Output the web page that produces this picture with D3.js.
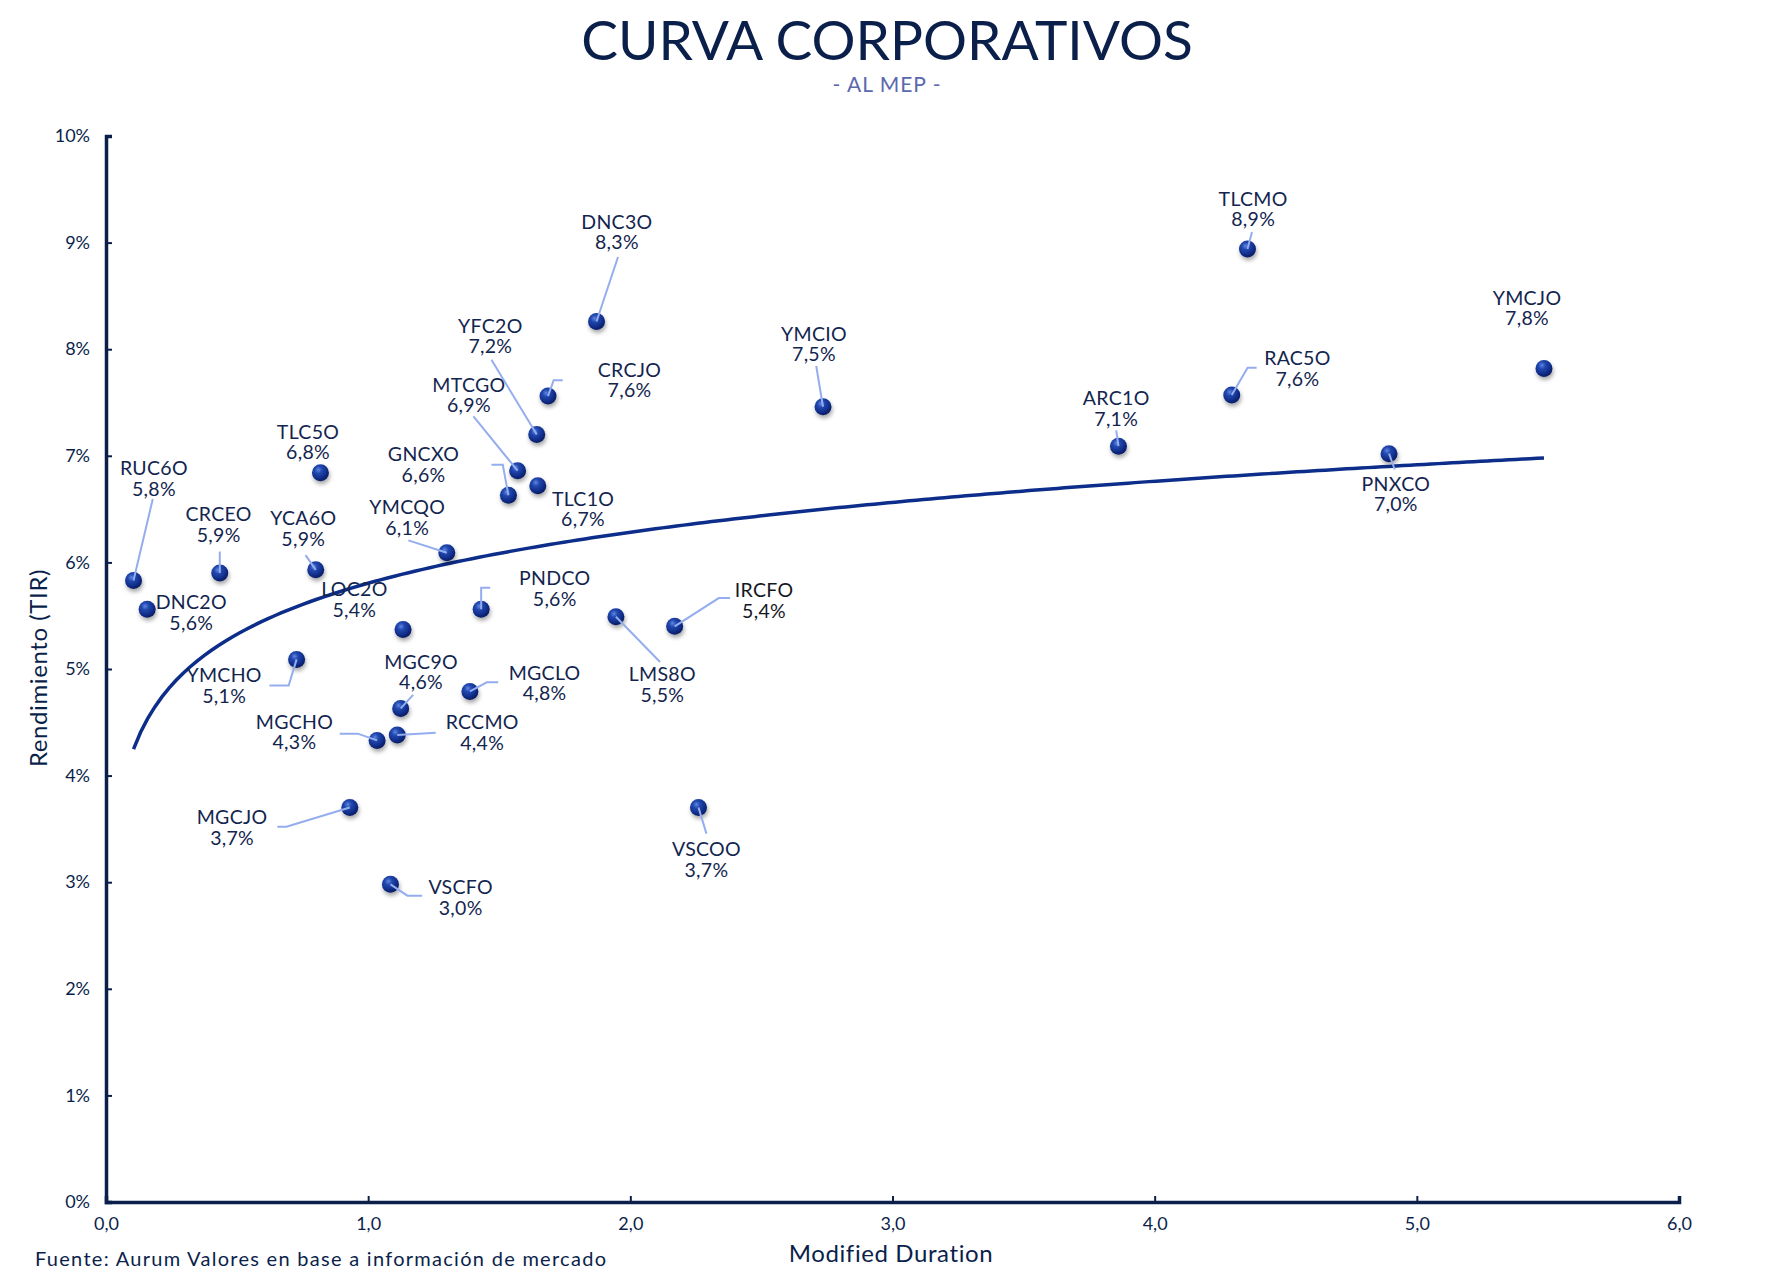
<!DOCTYPE html>
<html><head><meta charset="utf-8">
<script src="https://cdn.jsdelivr.net/npm/d3@7"></script>
<style>body{margin:0;background:#fff}svg{display:block;font-family:Lato,"Noto Sans",sans-serif}</style>
</head><body>
<svg id="c" width="1775" height="1287"></svg>
<script>
// ---- data ----
const tickers = ["RUC6O","DNC2O","CRCEO","YCA6O","TLC5O","YMCHO","LOC2O","YMCQO","GNCXO","MTCGO",
  "TLC1O","YFC2O","CRCJO","DNC3O","PNDCO","MGC9O","MGCLO","MGCHO","RCCMO","MGCJO",
  "VSCFO","LMS8O","IRCFO","VSCOO","YMCIO","ARC1O","TLCMO","RAC5O","PNXCO","YMCJO"];
const duration = [0.105,0.157,0.434,0.80,0.818,0.727,1.133,1.30,1.535,1.57,
  1.647,1.643,1.686,1.871,1.431,1.124,1.388,1.034,1.111,0.93,
  1.085,1.945,2.169,2.26,2.735,3.862,4.354,4.294,4.894,5.485];
const yields = [5.83,5.56,5.90,5.93,6.84,5.09,5.37,6.09,6.63,6.86,
  6.72,7.20,7.56,8.26,5.56,4.63,4.79,4.33,4.38,3.70,
  2.98,5.49,5.40,3.70,7.46,7.09,8.94,7.57,7.02,7.82];
const xTicks = [0,1,2,3,4,5,6];
const yTicks = [0,1,2,3,4,5,6,7,8,9,10];

// ---- label layout (offsets from the point, in reference-thumbnail px) ----
const labelOffsets = [[18,-91],[39,2],[-1,-43.5],[-11,-37],[-11,-28],[-64,22.5],[-43,-27],[-35,-32],[-75,-28],[-43,-67.5],
  [40,20],[-41,-87.5],[72,-15],[18,-79.5],[65,-19],[18,-33],[66,-8],[-73,-8],[75,-3],[-104,17],
  [62,11],[41,59],[79,-23.5],[7,45],[-8,-56],[-2,-34],[5,-36],[58,-24],[6,35],[-15,-54]];
const leaderPaths = [[[17,-72]],null,[[0,-19]],[[-9,-13]],null,[[-7,23],[-24,23]],null,[[-34,-11]],[[-5,-27],[-15,-27]],[[-39,-48]],
  null,[[-40,-66]],[[5,-14],[13,-14]],[[19,-57]],[[0,-19],[8,-19]],[[11,-12]],[[15,-8],[25,-8]],[[-17,-6],[-33,-6]],[[34,-2]],[[-56,17],[-64,17]],
  [[15,10],[28,10]],[[39,40]],[[39,-25],[49,-25]],[[7,23]],[[-6,-36]],[[-2,-14]],[[4,-15]],[[14,-24],[22,-24]],[[5,14]],null];
const K = 1775/1568;

const navy = "#0b1f4b";
const svg = d3.select("#c");
const x = d3.scaleLinear([0,6],[106,1679]);
const y = d3.scaleLinear([0,10],[1202,136]);

// defs
const defs = svg.append("defs");
const g = defs.append("radialGradient").attr("id","ball").attr("cx","38%").attr("cy","32%").attr("r","70%");
g.append("stop").attr("offset","0%").attr("stop-color","#5f86e0");
g.append("stop").attr("offset","30%").attr("stop-color","#2248b0");
g.append("stop").attr("offset","75%").attr("stop-color","#0f2b85");
g.append("stop").attr("offset","100%").attr("stop-color","#081a5c");
const f = defs.append("filter").attr("id","sh").attr("x","-50%").attr("y","-50%").attr("width","200%").attr("height","200%");
f.append("feDropShadow").attr("dx",1).attr("dy",3).attr("stdDeviation",2).attr("flood-color","#000").attr("flood-opacity",0.35);

// titles
svg.append("text").attr("x",887).attr("y",60).attr("text-anchor","middle")
  .attr("font-size",55).attr("fill",navy).text("CURVA CORPORATIVOS");
svg.append("text").attr("x",887).attr("y",92).attr("text-anchor","middle")
  .attr("font-size",21).attr("fill","#5a68ad").attr("letter-spacing",1).text("- AL MEP -");

// axes
const xAxis = d3.axisBottom(x).tickValues(xTicks).tickSize(-6).tickSizeOuter(-6).tickPadding(15)
  .tickFormat(d => d.toFixed(1).replace(".",","));
const yAxis = d3.axisLeft(y).tickValues(yTicks).tickSize(-6).tickSizeOuter(-6).tickPadding(16)
  .tickFormat(d => d + "%");
const gx = svg.append("g").attr("transform","translate(0,1202)").call(xAxis);
const gy = svg.append("g").attr("transform","translate(106,0)").call(yAxis);
[gx,gy].forEach(a => {
  a.select(".domain").attr("stroke",navy).attr("stroke-width",3.5);
  a.selectAll(".tick line").attr("stroke",navy).attr("stroke-width",2);
  a.selectAll(".tick text").attr("fill",navy).attr("font-size",18).attr("font-family","Lato,sans-serif");
});

svg.append("text").attr("x",891).attr("y",1252).attr("text-anchor","middle").attr("dominant-baseline","central")
  .attr("font-size",24).attr("letter-spacing",0.6).attr("fill",navy).text("Modified Duration");
svg.append("text").attr("transform","translate(37,668) rotate(-90)").attr("text-anchor","middle").attr("dominant-baseline","central")
  .attr("font-size",24).attr("letter-spacing",0.6).attr("fill",navy).text("Rendimiento (TIR)");
svg.append("text").attr("x",35).attr("y",1266)
  .attr("font-size",20).attr("fill",navy).attr("textLength",571).attr("lengthAdjust","spacing")
  .text("Fuente: Aurum Valores en base a información de mercado");

// logarithmic trendline (least squares on ln(duration))
const pts = duration.map((d,i)=>({t:tickers[i],d:d,y:yields[i]}));
const lx = pts.map(p=>Math.log(p.d)), ly = pts.map(p=>p.y);
const mx = d3.mean(lx), my = d3.mean(ly);
const b = d3.sum(lx.map((v,i)=>(v-mx)*(ly[i]-my))) / d3.sum(lx.map(v=>(v-mx)*(v-mx)));
const a = my - b*mx;
const [dmin,dmax] = d3.extent(duration);
const trend = d3.range(0,201).map(i => { const d = dmin + (dmax-dmin)*i/200; return [d, a + b*Math.log(d)]; });
svg.append("path").attr("d", d3.line().x(p=>x(p[0])).y(p=>y(p[1])).curve(d3.curveLinear)(trend))
  .attr("fill","none").attr("stroke","#0c2d8a").attr("stroke-width",3.5);

// points
svg.append("g").selectAll("circle").data(pts).join("circle")
  .attr("cx",p=>x(p.d)).attr("cy",p=>y(p.y)).attr("r",8.5)
  .attr("fill","url(#ball)").attr("filter","url(#sh)");

// leaders
const lg = svg.append("g");
pts.forEach((p,i) => {
  const lp = leaderPaths[i]; if (!lp) return;
  const cx = x(p.d), cy = y(p.y);
  const line = [[cx,cy]].concat(lp.map(q=>[cx+q[0]*K, cy+q[1]*K]));
  lg.append("path").attr("d", d3.line()(line)).attr("fill","none").attr("stroke","#94adee").attr("stroke-width",2);
});

// labels
const tg = svg.append("g");
pts.forEach((p,i) => {
  const o = labelOffsets[i];
  const lx0 = x(p.d) + o[0]*K, ly0 = y(p.y) + o[1]*K;
  const t = tg.append("text").attr("text-anchor","middle").attr("font-size",19.5).attr("letter-spacing",0.3)
    .attr("fill", p.t === "IRCFO" ? "#15171f" : "#13254f");
  t.append("tspan").attr("x",lx0).attr("y",ly0-10).attr("dominant-baseline","central").text(p.t);
  t.append("tspan").attr("x",lx0).attr("y",ly0+10.5).attr("dominant-baseline","central").text(p.y.toFixed(1).replace(".",",")+"%");
});
</script>
</body></html>
